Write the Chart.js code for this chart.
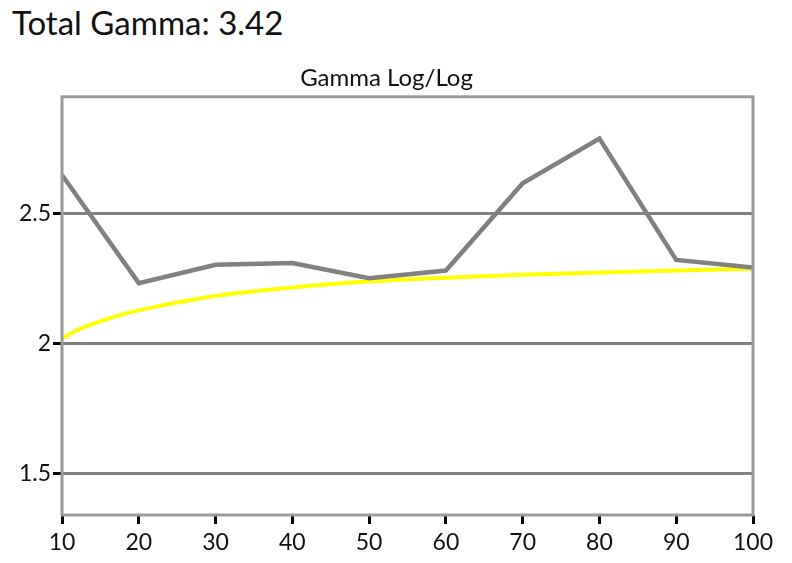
<!DOCTYPE html>
<html>
<head>
<meta charset="utf-8">
<script src="https://cdn.jsdelivr.net/npm/chart.js@4"></script>
<style>
  html, body { margin: 0; padding: 0; background: #fff; }
  #wrap { position: relative; width: 792px; height: 563px; }
  #total { position: absolute; left: 12px; top: 3px; font: 33px Lato, sans-serif; color: #111; line-height: 1.2; }
  canvas { position: absolute; left: 0; top: 0; }
</style>
</head>
<body>
<div id="wrap">
  <div id="total">Total Gamma: 3.42</div>
  <canvas id="chart" width="792" height="563"></canvas>
</div>
<script>
// measured gamma per stimulus level
const levels = [10, 20, 30, 40, 50, 60, 70, 80, 90, 100];
const measuredGamma = [2.647, 2.232, 2.302, 2.309, 2.251, 2.280, 2.615, 2.787, 2.321, 2.292];

// target curve
const targetLevels = [10, 12, 15, 18, 23, 27, 30, 40, 50, 60, 70, 80, 90, 100];
const targetGamma = [2.020, 2.052, 2.085, 2.113, 2.146, 2.168, 2.183, 2.215, 2.238, 2.253, 2.264, 2.273, 2.280, 2.287];

const yTicks = [1.5, 2, 2.5];
const xTicks = [10, 20, 30, 40, 50, 60, 70, 80, 90, 100];

const FONT = "Lato, sans-serif";

// frame around the plot area (Chart.js only draws left/bottom borders)
const frame = {
  id: "frame",
  afterDatasetsDraw(chart) {
    const { ctx, chartArea: a } = chart;
    ctx.save();
    ctx.strokeStyle = "#9a9a9a";
    ctx.lineWidth = 3;
    ctx.strokeRect(a.left, a.top, a.right - a.left, a.bottom - a.top);
    ctx.restore();
  }
};

const ctx = document.getElementById("chart").getContext("2d");
new Chart(ctx, {
  type: "line",
  data: {
    datasets: [
      {
        label: "Target",
        data: targetLevels.map((x, i) => ({ x, y: targetGamma[i] })),
        borderColor: "#ffff00",
        borderWidth: 4,
        pointRadius: 0,
        cubicInterpolationMode: "monotone",
        order: 2
      },
      {
        label: "Measured",
        data: levels.map((x, i) => ({ x, y: measuredGamma[i] })),
        borderColor: "#808080",
        borderWidth: 4.5,
        pointRadius: 0,
        tension: 0,
        order: 1
      }
    ]
  },
  options: {
    responsive: false,
    animation: false,
    layout: { padding: { top: 64, right: 39, bottom: 0, left: 20 } },
    plugins: {
      legend: { display: false },
      tooltip: { enabled: false },
      title: {
        display: true,
        text: "Gamma Log/Log",
        color: "#111",
        font: { family: FONT, size: 24, weight: "normal" },
        padding: { top: 0, bottom: 4 }
      }
    },
    scales: {
      x: {
        type: "linear",
        min: 10,
        max: 100,
        afterBuildTicks: (s) => { s.ticks = xTicks.map(v => ({ value: v })); },
        afterFit: (s) => { s.height = 48; },
        border: { display: false },
        grid: { drawOnChartArea: false, tickColor: "#000", tickWidth: 3, tickLength: 9 },
        ticks: { color: "#111", padding: 5, maxRotation: 0, font: { family: FONT, size: 23 } }
      },
      y: {
        min: 1.342,
        max: 2.947,
        afterBuildTicks: (s) => { s.ticks = yTicks.map(v => ({ value: v })); },
        afterFit: (s) => { s.width = 42; },
        border: { display: false },
        grid: { color: "#808080", lineWidth: 3, tickColor: "#000", tickWidth: 3, tickLength: 9 },
        ticks: { color: "#111", padding: 2, font: { family: FONT, size: 23 }, callback: (v) => String(v) }
      }
    }
  },
  plugins: [frame]
});
</script>
</body>
</html>
